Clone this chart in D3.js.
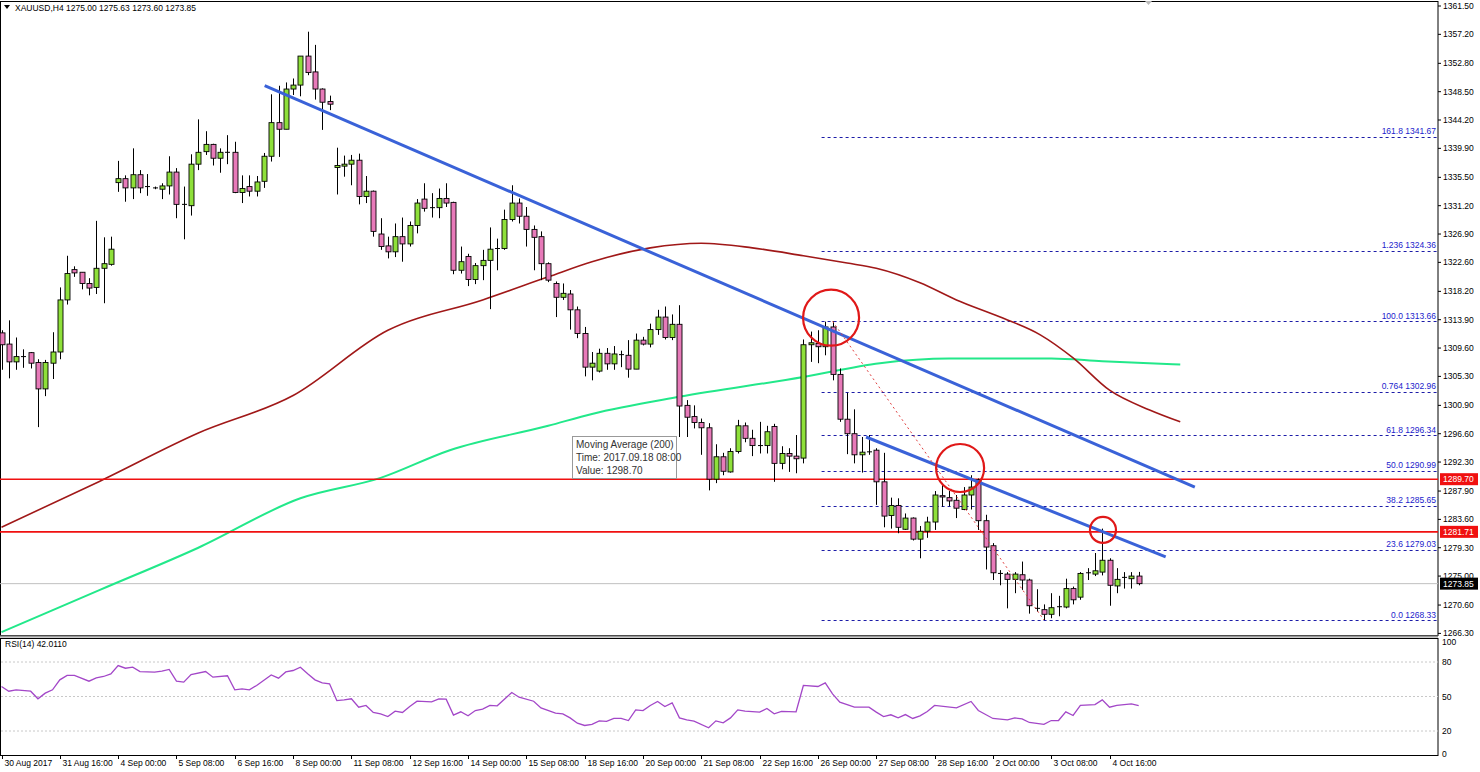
<!DOCTYPE html>
<html><head><meta charset="utf-8">
<script src="https://cdn.jsdelivr.net/npm/d3@7"></script>
<style>body{margin:0;background:#fff}svg{display:block}text{font-family:"Liberation Sans",Arial,sans-serif}</style>
</head><body><svg id="c" width="1480" height="772"></svg>
<script>
const opens=[1311.9,1310.2,1307.5,1308.3,1308.9,1307.4,1303.4,1307.3,1309.0,1316.9,1321.5,1321.1,1319.4,1318.8,1321.7,1322.3,1334.7,1335.3,1333.9,1335.9,1334.1,1333.9,1333.7,1334.2,1336.3,1331.4,1331.2,1337.5,1339.4,1340.5,1338.4,1339.3,1339.3,1333.2,1334.1,1333.4,1334.9,1338.7,1343.8,1342.8,1348.9,1349.5,1353.9,1351.5,1348.9,1347.0,1337.0,1337.2,1337.5,1338.1,1332.6,1333.4,1326.9,1325.1,1324.2,1326.5,1325.4,1328.2,1332.2,1330.9,1330.9,1332.3,1331.7,1321.4,1323.5,1320.0,1322.1,1322.9,1324.7,1324.7,1329.1,1331.6,1329.6,1327.6,1326.5,1322.4,1319.4,1317.3,1317.8,1315.4,1311.8,1306.7,1306.1,1308.8,1307.2,1308.6,1308.5,1306.4,1310.8,1310.2,1312.4,1314.3,1311.2,1313.2,1300.9,1299.2,1298.3,1297.5,1289.7,1293.1,1290.8,1293.9,1297.8,1295.9,1294.8,1294.8,1297.7,1292.1,1293.6,1293.2,1292.9,1310.1,1310.3,1309.8,1312.8,1305.6,1298.8,1296.6,1293.4,1293.8,1294.1,1289.3,1284.2,1285.7,1282.1,1283.8,1280.6,1281.8,1283.2,1287.2,1286.9,1286.5,1285.1,1287.3,1289.6,1283.4,1279.6,1275.4,1275.3,1274.5,1275.2,1274.4,1270.1,1269.9,1269.2,1270.4,1270.3,1273.1,1271.8,1275.5,1275.3,1275.6,1277.4,1273.5,1274.8,1274.6,1275.00];
const highs=[1312.3,1313.8,1311.2,1309.4,1309.0,1307.9,1307.8,1312.0,1318.8,1323.6,1322.0,1321.1,1320.2,1328.9,1326.4,1326.5,1338.0,1335.8,1339.9,1336.6,1336.0,1334.1,1334.6,1338.7,1336.9,1334.1,1339.0,1344.3,1342.5,1340.6,1339.9,1341.9,1340.9,1335.8,1335.8,1335.7,1339.2,1348.1,1349.4,1349.9,1350.5,1353.9,1357.6,1355.6,1349.0,1347.9,1340.0,1338.8,1338.9,1339.1,1335.7,1333.5,1329.3,1326.5,1328.5,1329.4,1328.8,1332.2,1334.6,1333.1,1333.8,1334.6,1331.8,1325.0,1323.9,1322.5,1324.5,1327.9,1326.2,1330.6,1334.3,1332.3,1331.0,1328.2,1327.3,1322.6,1319.7,1319.4,1318.4,1315.9,1312.8,1309.0,1309.5,1309.6,1309.9,1309.2,1310.8,1311.8,1311.3,1313.3,1315.4,1315.9,1314.7,1316.1,1301.7,1300.9,1298.9,1298.2,1295.0,1293.7,1294.4,1298.7,1298.3,1297.2,1298.4,1297.8,1298.1,1294.7,1294.4,1296.4,1310.9,1312.1,1312.3,1313.6,1313.66,1306.5,1302.8,1300.3,1296.1,1296.4,1294.4,1293.7,1286.9,1286.8,1284.5,1283.9,1282.6,1284.0,1287.9,1288.8,1287.9,1287.3,1288.5,1290.3,1289.8,1284.3,1280.0,1275.9,1275.6,1275.6,1277.2,1274.6,1273.0,1270.7,1272.4,1272.0,1274.6,1273.4,1275.6,1276.2,1278.5,1282.2,1277.7,1276.2,1275.6,1275.6,1275.63];
const lows=[1306.3,1305.0,1306.3,1306.6,1306.5,1297.6,1302.3,1304.9,1307.9,1316.2,1320.4,1318.5,1317.6,1317.8,1316.4,1322.1,1333.3,1331.8,1332.2,1333.1,1332.7,1333.7,1332.2,1332.9,1329.3,1326.1,1329.7,1336.6,1338.9,1337.3,1336.2,1337.5,1333.1,1331.6,1332.6,1332.6,1333.9,1337.9,1338.6,1342.8,1348.0,1347.8,1351.0,1347.3,1342.7,1345.7,1332.9,1335.6,1334.3,1331.4,1331.6,1326.5,1324.5,1323.2,1323.4,1322.7,1325.0,1327.0,1330.3,1329.4,1329.3,1331.0,1320.8,1320.9,1319.0,1319.3,1319.9,1315.5,1321.4,1324.5,1328.8,1328.5,1325.0,1321.4,1319.9,1319.6,1314.3,1316.9,1312.4,1311.1,1305.3,1304.7,1305.9,1306.3,1306.3,1306.7,1305.1,1306.4,1310.0,1309.7,1311.6,1310.9,1310.8,1296.1,1296.1,1297.4,1293.4,1288.0,1289.1,1290.3,1290.7,1293.6,1295.3,1293.2,1293.6,1293.6,1289.3,1291.2,1290.8,1290.6,1292.1,1307.5,1307.3,1308.5,1304.7,1298.4,1293.5,1292.1,1290.7,1293.4,1285.8,1282.4,1282.2,1281.5,1282.0,1280.4,1277.7,1280.8,1282.0,1285.5,1285.6,1283.8,1285.0,1285.1,1282.0,1276.0,1274.4,1273.6,1270.1,1272.4,1272.9,1269.3,1269.6,1268.33,1268.6,1268.9,1270.1,1270.7,1271.4,1274.4,1275.0,1275.1,1270.5,1272.4,1273.1,1273.1,1273.60];
const closes=[1310.1,1307.5,1308.3,1308.3,1307.3,1303.4,1307.4,1309.0,1316.9,1320.9,1321.0,1319.4,1318.7,1321.7,1322.4,1324.6,1335.3,1333.9,1335.9,1333.9,1334.1,1333.9,1334.2,1336.3,1331.4,1331.4,1337.5,1339.3,1340.5,1338.4,1339.3,1339.3,1333.2,1333.8,1333.4,1334.8,1338.7,1343.8,1342.8,1348.9,1349.5,1353.9,1351.4,1348.9,1346.9,1346.6,1337.3,1337.5,1338.1,1332.6,1333.4,1327.3,1325.0,1324.2,1326.5,1325.4,1328.2,1331.6,1330.8,1330.9,1332.3,1331.6,1321.4,1322.7,1320.0,1322.1,1322.9,1324.6,1324.7,1329.1,1331.6,1329.6,1327.6,1326.4,1322.4,1319.9,1317.3,1317.9,1315.4,1311.8,1306.7,1307.3,1308.8,1307.2,1308.7,1308.6,1306.4,1310.8,1310.2,1312.4,1314.3,1311.2,1313.2,1300.8,1299.1,1298.3,1297.5,1289.7,1293.1,1290.9,1293.9,1297.8,1295.9,1294.8,1294.8,1296.9,1292.1,1293.6,1293.2,1292.8,1310.1,1310.4,1309.8,1312.8,1305.6,1298.8,1296.6,1293.4,1293.8,1293.9,1289.3,1284.1,1285.7,1282.4,1283.8,1280.6,1281.8,1283.2,1287.3,1287.0,1286.4,1285.3,1287.3,1288.5,1283.4,1279.4,1275.5,1275.4,1274.5,1275.3,1274.4,1270.5,1270.1,1269.2,1270.2,1270.3,1273.1,1271.4,1275.4,1275.5,1275.8,1277.4,1273.6,1274.5,1274.8,1275.0,1273.85];
// moving averages sampled at candle indices
const ma100Idx=[0,13.5,27,40,53,66,75,81,89,96,103,110,116,120,126,131,137,142.5,147,152,157.5,161.7];
const ma100Val=[1282.4,1289.4,1296.7,1302.4,1312.3,1316.9,1320.4,1322.7,1324.8,1325.5,1324.8,1323.6,1322.5,1321.7,1319.5,1316.9,1314.3,1311.6,1308.1,1303.2,1300.2,1298.4];
const ma200Idx=[0,13.5,27,41,52,61.5,75,81,93,110,120.5,130,144,151,161.7];
const ma200Val=[1266.5,1272.9,1279.3,1286.8,1289.9,1294.1,1297.8,1299.6,1302.2,1305.2,1307.3,1308.0,1308.0,1307.6,1307.1];
const rsiIdx=[0,1,2,4,5,6,7,8,9,10,12,13,14,15,16,17,18,19,21,22,23,24,25,26,28,29,31,32,33,34,35,37,38,39,40,41,42,43,44,45,46,47,48,49,50,51,52,53,54,55,56,57,59,60,61,62,63,64,65,66,67,68,70,71,73,74,76,77,78,79,80,81,82,83,84,85,86,87,88,89,90,91,92,93,94,95,97,98,99,100,101,102,104,105,106,107,109,110,112,113,114,115,117,119,120,121,122,123,124,125,126,127,128,131,133,134,136,138,139,140,141,143,144,145,146,147,148,150,151,152,153,155,156];
const rsiVal=[58.7,54.6,55.8,54.6,48.0,52.9,55.8,64.5,68.3,68.3,63.3,66.2,67.4,69.7,76.9,74.6,75.5,71.7,71.2,72.0,73.5,63.3,62.5,69.1,71.7,66.8,68.0,55.8,56.7,55.8,59.6,68.8,65.9,71.4,72.6,75.5,69.7,64.5,61.9,61.0,46.5,47.1,48.0,40.7,42.2,36.1,34.9,32.6,37.2,36.1,41.3,45.9,45.4,48.0,47.7,33.8,36.7,33.2,37.8,39.0,42.2,41.9,53.5,49.4,45.9,40.1,35.5,34.9,31.4,26.8,24.8,25.7,28.8,28.3,30.9,30.9,29.1,38.4,37.8,42.2,45.7,41.3,44.5,31.4,29.7,28.6,22.8,28.8,27.1,31.4,38.4,37.2,36.4,39.6,34.9,37.0,36.7,59.6,58.7,61.9,52.3,45.1,40.7,40.7,36.4,32.6,34.1,31.4,34.3,30.9,33.2,37.0,42.2,40.1,45.7,37.8,30.9,29.7,31.4,30.6,27.4,25.7,29.1,29.1,36.7,33.5,42.2,43.0,47.1,40.7,42.2,43.6,42.01];
const priceTicks=[1361.50,1357.20,1352.80,1348.50,1344.20,1339.90,1335.50,1331.20,1326.90,1322.60,1318.20,1313.90,1309.60,1305.30,1300.90,1296.60,1292.30,1287.90,1283.60,1279.30,1275.00,1270.60,1266.30];
const dateIdx=[0,8,16,24,32,40,48,56,64,72,80,88,96,104,112,120,128,136,144,152];
const dateLabels=["30 Aug 2017","31 Aug 16:00","4 Sep 00:00","5 Sep 08:00","6 Sep 16:00","8 Sep 00:00","11 Sep 08:00","12 Sep 16:00","14 Sep 00:00","15 Sep 08:00","18 Sep 16:00","20 Sep 00:00","21 Sep 08:00","22 Sep 16:00","26 Sep 00:00","27 Sep 08:00","28 Sep 16:00","2 Oct 00:00","3 Oct 08:00","4 Oct 16:00"];
const fibNames=["161.8","1.236","100.0","0.764","61.8","50.0","38.2","23.6","0.0"];
const fibVals=[1341.67,1324.36,1313.66,1302.96,1296.34,1290.99,1285.65,1279.03,1268.33];
const hLines=[1289.70,1281.71];
const lastPrice=1273.85;
const trend1=[[36.1,1349.4],[163.7,1288.5]];
const trend2=[[118.6,1296.1],[159.7,1277.9]];
const fibDiag=[[114,1313.66],[143,1268.33]];
const circles=[[113.8,1314.2,28],[131.5,1291.4,24],[151.1,1282.0,13]];
const rsiLevels=[80,50,20];
const rsiTicks=[100,80,50,20,0];

const svg=d3.select("#c");
const R=1438, mainTop=1, mainBot=635, rTop=638, rBot=755;
const x=d3.scaleLinear().domain([0,156]).range([1.5,1138.7]);
const y=d3.scaleLinear().domain([1266.3,1361.5]).range([633.4,6]);
const yr=d3.scaleLinear().domain([0,100]).range([754,639]);
const fs="8.5px";

// frames
svg.append("rect").attr("x",0.5).attr("y",mainTop+0.5).attr("width",R-0.5).attr("height",mainBot-mainTop).attr("fill","none").attr("stroke","#000");
svg.append("rect").attr("x",0.5).attr("y",rTop+0.5).attr("width",R-0.5).attr("height",rBot-rTop).attr("fill","none").attr("stroke","#000");
svg.append("line").attr("x1",0).attr("x2",R).attr("y1",mainBot+1.5).attr("y2",mainBot+1.5).attr("stroke","#999").attr("stroke-width",2);

const g=svg.append("g");
// price axis
priceTicks.forEach(p=>{
  g.append("line").attr("x1",R).attr("x2",R+3).attr("y1",y(p)).attr("y2",y(p)).attr("stroke","#000");
  g.append("text").attr("x",R+5).attr("y",y(p)+3).attr("font-size",fs).text(p.toFixed(2));
});
// fib
const fx0=x(112.5);
fibVals.forEach((v,i)=>{
  g.append("line").attr("x1",fx0).attr("x2",R).attr("y1",Math.round(y(v))+0.5).attr("y2",Math.round(y(v))+0.5).attr("stroke","#1c1ca8").attr("stroke-dasharray","3,3");
  g.append("text").attr("x",R-2).attr("y",y(v)-2.5).attr("text-anchor","end").attr("font-size",fs).attr("fill","#2222cc").text(fibNames[i]+" "+v.toFixed(2));
});
// current price line
g.append("line").attr("x1",0).attr("x2",R).attr("y1",y(lastPrice)).attr("y2",y(lastPrice)).attr("stroke","#c0c0c0");
// MAs
const line=d3.line().x(d=>x(d[0])).y(d=>y(d[1])).curve(d3.curveMonotoneX);
g.append("path").attr("d",line(ma200Idx.map((d,i)=>[d,ma200Val[i]]))).attr("fill","none").attr("stroke","#22e88a").attr("stroke-width",2);
g.append("path").attr("d",line(ma100Idx.map((d,i)=>[d,ma100Val[i]]))).attr("fill","none").attr("stroke","#a01818").attr("stroke-width",1.6);
// horizontal red lines
hLines.forEach(v=>{
  g.append("line").attr("x1",0).attr("x2",R).attr("y1",y(v)).attr("y2",y(v)).attr("stroke","#f01010").attr("stroke-width",1.6);
  g.append("rect").attr("x",R+2).attr("y",y(v)-6).attr("width",38).attr("height",12).attr("fill","#f01010");
  g.append("text").attr("x",R+5).attr("y",y(v)+3).attr("font-size",fs).attr("fill","#fff").text(v.toFixed(2));
});
// candles
const bw=5;
d3.range(opens.length).forEach(i=>{
  const cx=Math.round(x(i))+0.5, o=opens[i], c=closes[i];
  g.append("line").attr("x1",cx).attr("x2",cx).attr("y1",y(highs[i])).attr("y2",y(lows[i])).attr("stroke","#000");
  const t=y(Math.max(o,c)), b=y(Math.min(o,c));
  if(b-t<1.2){
    g.append("line").attr("x1",cx-2.5).attr("x2",cx+2.5).attr("y1",(t+b)/2).attr("y2",(t+b)/2).attr("stroke","#000");
  } else {
    g.append("rect").attr("x",cx-bw/2).attr("y",t).attr("width",bw).attr("height",b-t)
     .attr("fill",c>=o?"#8ee03a":"#e77ab9").attr("stroke","#000").attr("stroke-width",0.9);
  }
});
// trendlines
[trend1,trend2].forEach(t=>{
  g.append("line").attr("x1",x(t[0][0])).attr("y1",y(t[0][1])).attr("x2",x(t[1][0])).attr("y2",y(t[1][1])).attr("stroke","#3a62d8").attr("stroke-width",3);
});
g.append("line").attr("x1",x(fibDiag[0][0])).attr("y1",y(fibDiag[0][1])).attr("x2",x(fibDiag[1][0])).attr("y2",y(fibDiag[1][1])).attr("stroke","#e04040").attr("stroke-dasharray","2,3");
circles.forEach(c=>{
  g.append("circle").attr("cx",x(c[0])).attr("cy",y(c[1])).attr("r",c[2]).attr("fill","none").attr("stroke","#e01818").attr("stroke-width",2.2);
});
// last price label
g.append("rect").attr("x",R+2).attr("y",y(lastPrice)-6).attr("width",38).attr("height",12).attr("fill","#000");
g.append("text").attr("x",R+5).attr("y",y(lastPrice)+3).attr("font-size",fs).attr("fill","#fff").text(lastPrice.toFixed(2));
// tooltip
const tt=g.append("g").attr("transform","translate(572,436)");
tt.append("rect").attr("x",0.5).attr("y",0.5).attr("width",104).attr("height",42).attr("fill","#fff").attr("stroke","#999");
["Moving Average (200)","Time: 2017.09.18 08:00","Value: 1298.70"].forEach((s,i)=>{
  tt.append("text").attr("x",4).attr("y",12+i*13).attr("font-size","10px").attr("fill","#333").text(s);
});
// title
svg.append("path").attr("d","M4,5 L10,5 L7,9 Z").attr("fill","#000");
svg.append("text").attr("x",15).attr("y",11).attr("font-size",fs).text("XAUUSD,H4  1275.00 1275.63 1273.60 1273.85");
svg.append("path").attr("d","M1145,1 L1152,1 L1148.5,5 Z").attr("fill","#bbb");
// RSI
rsiLevels.forEach(l=>{
  svg.append("line").attr("x1",1).attr("x2",R).attr("y1",yr(l)).attr("y2",yr(l)).attr("stroke","#c8c8c8").attr("stroke-dasharray","2,2");
});
rsiTicks.forEach(t=>{
  svg.append("text").attr("x",R+4).attr("y",yr(t)+(t===100?6:3)).attr("font-size",fs).text(t);
});
svg.append("path").attr("d",d3.line().x(d=>x(d[0])).y(d=>yr(d[1]))(rsiIdx.map((d,i)=>[d,rsiVal[i]]))).attr("fill","none").attr("stroke","#a347c8").attr("stroke-width",1.3);
svg.append("text").attr("x",5).attr("y",647).attr("font-size",fs).text("RSI(14) 42.0110");
// date axis
dateIdx.forEach((d,i)=>{
  const xx=Math.round(x(d))+0.5;
  svg.append("line").attr("x1",xx).attr("x2",xx).attr("y1",rBot+1).attr("y2",rBot+4).attr("stroke","#000");
  svg.append("text").attr("x",xx+2).attr("y",766).attr("font-size",fs).text(dateLabels[i]);
});
</script></body></html>
